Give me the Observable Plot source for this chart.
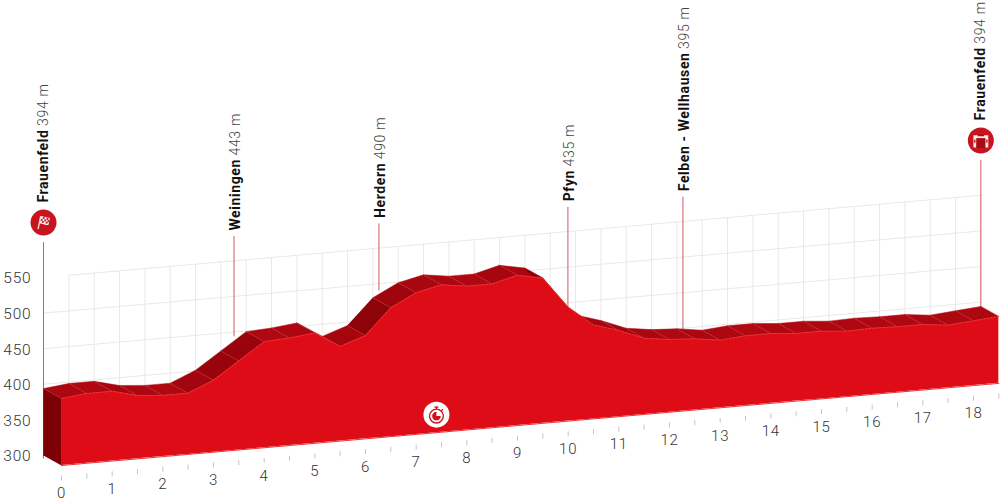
<!DOCTYPE html>
<html>
<head>
<meta charset="utf-8">
<style>
html,body{margin:0;padding:0;background:#fff}
svg{display:block}
.stop .nm{font-family:"Roboto",sans-serif;font-weight:700;fill:#111;letter-spacing:.6px}
.stop .el{font-family:"Roboto",sans-serif;font-weight:300;fill:#444;letter-spacing:.7px}
.tick text{letter-spacing:.8px}
</style>
<script src="https://cdn.jsdelivr.net/npm/d3@7"></script>
<script src="https://cdn.jsdelivr.net/npm/@observablehq/plot@0.6"></script>
</head>
<body>
<div id="chart"></div>
<script>
// --- data ---
const distanceKm = [0,0.5,1,1.5,2,2.5,3,3.5,4,4.5,5,5.5,6,6.5,7,7.5,8,8.5,9,9.5,10,10.5,11,11.5,12,12.5,13,13.5,14,14.5,15,15.5,16,16.5,17,17.5,18,18.5];
const elevationM = [394,398,398,389,386,386,401,425,449,451,455,433,445,481,499,507,502,502,511,504,460,432,421,407,402,400,395,398,398,395,395,392,393,392,392,388,391,394];
const townNames = ["Weiningen","Herdern","Pfyn","Felben - Wellhausen"];
const townKm = [3.76,6.62,10.35,12.62];
const townElev = [443,490,435,395];
const endNames = ["Frauenfeld","Frauenfeld"];
const endKm = [0,18.5];
const endElev = [394,394];
const elevTicks = [300,350,400,450,500,550];
const gridElev = [350,400,450,500,550];
const kmLabels = d3.range(0,19);
const kmTicks = d3.range(0,19,0.5);

// --- 3D projection of the profile, in data units ---
const baseElev = 300;
const shearMPerKm = 6.236;   // the whole block rises to the right
const depthKm = 0.355;       // the back edge sits left of the front edge
const depthM = 14.04;        // ... and above it
const frontX = k => k;
const frontY = (e,k) => e + k*shearMPerKm;
const backX = k => k - depthKm;
const backY = (e,k) => e + depthM + k*shearMPerKm;

const profile = distanceKm.map((k,i)=>({k,e:elevationM[i]}));
const shade = d3.scaleLinear().domain([0,40]).range(["#b00811","#8a0108"]).clamp(true);

const quads = profile.slice(0,-1).flatMap((a,i)=>{
  const b = profile[i+1], c = shade(Math.abs(b.e-a.e));
  return [
    {q:i,c,x:backX(a.k),y:backY(a.e,a.k)},
    {q:i,c,x:backX(b.k),y:backY(b.e,b.k)},
    {q:i,c,x:frontX(b.k),y:frontY(b.e,b.k)},
    {q:i,c,x:frontX(a.k),y:frontY(a.e,a.k)}
  ];
});
const k0 = distanceKm[0];
const sideFace = [
  {x:backX(k0),y:backY(baseElev,k0)},
  {x:backX(k0),y:backY(elevationM[0],k0)},
  {x:frontX(k0),y:frontY(elevationM[0],k0)},
  {x:frontX(k0),y:frontY(baseElev,k0)}
];
const hGrid = gridElev.flatMap(e=>{
  const start = e===550 ? 0.5 : 0;
  return [start,18.5].map(k=>({e,x:backX(k),y:backY(e,k)}));
});
const vGrid = kmTicks.filter(k=>k>0);
const stemTown = 584, stemEnd = 599;
const towns = townNames.map((name,i)=>({name,k:townKm[i],e:townElev[i],label:`${name} ${townElev[i]} m`}));
const ends = endNames.map((name,i)=>({name,k:endKm[i],e:endElev[i],label:`${name} ${endElev[i]} m`}));

// --- icons ---
const svgUri = s => "data:image/svg+xml;utf8,"+encodeURIComponent(s);
const flagIcon = svgUri(`<svg xmlns="http://www.w3.org/2000/svg" viewBox="0 0 24 24"><g transform="rotate(12 12 12)"><rect x="6.6" y="5.5" width="1.6" height="15" fill="#f6d7d9"/><path d="M8 5.5c3-1.2 6 1 10-.5v8.5c-4 1.5-7-.7-10 .5z" fill="#fff"/><g fill="#c8141f"><rect x="10" y="5.6" width="2.2" height="2.2"/><rect x="14.4" y="5.8" width="2.2" height="2.2"/><rect x="12.2" y="7.9" width="2.2" height="2.2"/><rect x="8.4" y="8.3" width="1.8" height="2.2"/><rect x="16" y="8" width="2" height="2.2"/><rect x="10" y="10.3" width="2.2" height="2.2"/><rect x="14.4" y="10.2" width="2.2" height="2.2"/></g></g></svg>`);
const gateIcon = svgUri(`<svg xmlns="http://www.w3.org/2000/svg" viewBox="0 0 24 24"><path d="M3.5 6h17v14h-3.4V9.5H6.9V20H3.5z" fill="#fff" fill-opacity=".9"/><rect x="7" y="9.5" width="10" height="11" fill="#a50d15"/><rect x="8.5" y="5.2" width="7" height="2" fill="#a50d15"/><rect x="4.3" y="11" width="1.6" height="3.5" fill="#c8141f"/><rect x="18.1" y="11" width="1.6" height="3.5" fill="#c8141f"/></svg>`);
const watchIcon = svgUri(`<svg xmlns="http://www.w3.org/2000/svg" viewBox="0 0 24 24"><circle cx="12" cy="13.5" r="7.2" fill="none" stroke="#d2101b" stroke-width="1.4"/><path d="M12 9a4.5 4.5 0 1 0 4.5 4.5H12z" fill="#d2101b"/><rect x="10" y="3.4" width="4" height="1.5" fill="#d2101b"/><rect x="11.4" y="4.5" width="1.2" height="2" fill="#d2101b"/><rect x="17.2" y="6" width="1.4" height="2.4" transform="rotate(45 17.9 7.2)" fill="#d2101b"/></svg>`);

const labelFont = {className:"tick",fontFamily:"Roboto, sans-serif",fontSize:15.5,fontWeight:300,fill:"#333"};

const plot = Plot.plot({
  width:1000,height:502,margin:0,
  x:{domain:[0,18],range:[61,973],axis:null},
  y:{domain:[300,550],range:[465,287],axis:null},
  marks:[
    // back-plane grid
    Plot.ruleX(vGrid,{x:k=>backX(k),y1:k=>backY(300,k),y2:k=>backY(550,k),stroke:"#e9e9e9",strokeWidth:1}),
    Plot.line(hGrid,{x:"x",y:"y",z:"e",stroke:"#e9e9e9",strokeWidth:1}),
    // stems
    Plot.ruleX(towns,{x:d=>backX(d.k),y1:d=>backY(d.e,d.k),y2:d=>backY(stemTown,d.k),stroke:"#cf5a63",strokeWidth:1}),
    Plot.ruleX(ends,{x:d=>backX(d.k),y1:d=>backY(baseElev-5,d.k),y2:d=>backY(stemEnd,d.k),stroke:"#cf5a63",strokeWidth:1}),
    // km ticks and labels
    Plot.ruleX(kmTicks,{x:k=>k,y1:k=>frontY(285,k),y2:k=>frontY(278,k),stroke:"#c4c4c4",strokeWidth:1}),
    Plot.text(kmLabels,{x:k=>k,y:k=>frontY(baseElev,k),dy:28,text:k=>String(k),...labelFont,fontSize:15}),
    // elevation labels
    Plot.text(elevTicks,{x:()=>backX(0),y:e=>backY(e,0),dx:-12,dy:1,text:e=>String(e),textAnchor:"end",...labelFont}),
    // block: side, sloped roof, front
    Plot.line(sideFace,{x:"x",y:"y",fill:"#7d0006",stroke:"#7d0006",strokeWidth:.5}),
    Plot.line(quads,{x:"x",y:"y",z:"q",fill:{value:"c",scale:null},stroke:{value:"c",scale:null},strokeWidth:.5}),
    Plot.link(profile,{x1:d=>backX(d.k),y1:d=>backY(d.e,d.k),x2:d=>frontX(d.k),y2:d=>frontY(d.e,d.k),stroke:"#d4444b",strokeOpacity:.35,strokeWidth:.7}),
    Plot.areaY(profile,{x:d=>frontX(d.k),y1:d=>frontY(baseElev,d.k),y2:d=>frontY(d.e,d.k),fill:"#de0c17"}),
    Plot.line(profile,{x:d=>frontX(d.k),y:d=>frontY(d.e,d.k),stroke:"#ea4a50",strokeWidth:.7,strokeDasharray:"2 1.5"}),
    Plot.line(profile,{x:d=>frontX(d.k),y:d=>frontY(baseElev,d.k),stroke:"#ee3038",strokeWidth:1}),
    // stage labels
    Plot.text(towns,{className:"stop",x:d=>backX(d.k),y:d=>backY(stemTown,d.k),dx:1.5,dy:-6,rotate:-90,textAnchor:"start",text:"label",fontSize:14}),
    Plot.text(ends,{className:"stop",x:d=>backX(d.k),y:d=>backY(stemEnd,d.k),dx:0,dy:-40,rotate:-90,textAnchor:"start",text:"label",fontSize:14}),
    // start / finish discs
    Plot.dot(ends,{x:d=>backX(d.k),y:d=>backY(stemEnd,d.k),dy:-20,r:13,fill:"#c8141f"}),
    Plot.image([ends[0]],{x:d=>backX(d.k),y:d=>backY(stemEnd,d.k),dy:-20,width:21,height:21,src:()=>flagIcon}),
    Plot.image([ends[1]],{x:d=>backX(d.k),y:d=>backY(stemEnd,d.k),dy:-20,width:21,height:21,src:()=>gateIcon}),
    // timing point
    Plot.dot([7.4],{x:k=>k,y:k=>frontY(baseElev,k),dy:-18,r:13,fill:"#fff"}),
    Plot.image([7.4],{x:k=>k,y:k=>frontY(baseElev,k),dy:-18,width:23,height:23,src:()=>watchIcon})
  ]
});
// the place name is bold and the altitude light, within one label
plot.querySelectorAll(".stop text").forEach(t=>{
  const m = t.textContent.match(/^(.*) (\d+ m)$/);
  t.textContent = "";
  const a = document.createElementNS("http://www.w3.org/2000/svg","tspan");
  a.setAttribute("class","nm"); a.textContent = m[1];
  const b = document.createElementNS("http://www.w3.org/2000/svg","tspan");
  b.setAttribute("class","el"); b.setAttribute("dx","3.5"); b.textContent = m[2];
  t.append(a,b);
});
document.getElementById("chart").append(plot);
</script>
</body>
</html>
